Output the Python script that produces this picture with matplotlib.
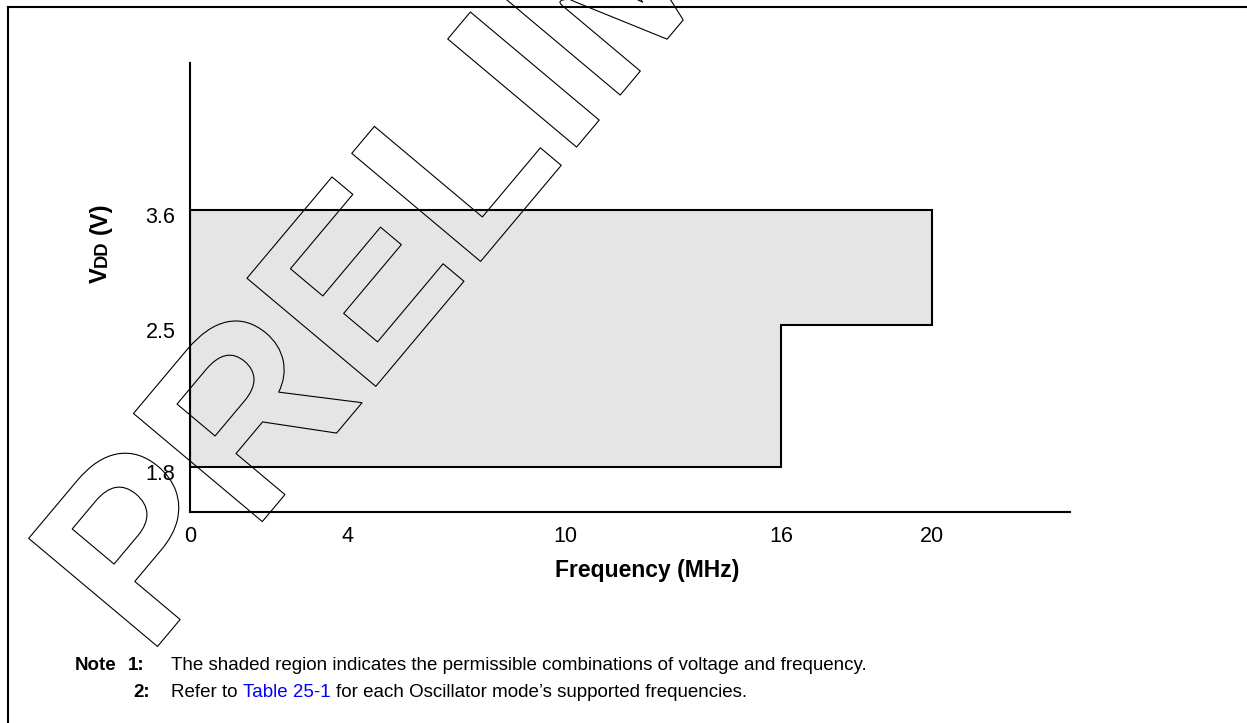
import numpy as np
import matplotlib
matplotlib.use("Agg")
import matplotlib.pyplot as plt
from matplotlib import patheffects
from matplotlib.lines import Line2D
from matplotlib.transforms import ScaledTranslation

# ---------------- data ----------------
freq_ticks = [0, 4, 10, 16, 20]
freq_tick_labels = ["0", "4", "10", "16", "20"]
vdd_ticks = [1.8, 2.5, 3.6]
vdd_tick_labels = ["1.8", "2.5", "3.6"]

# operating region: minimum VDD, and for each voltage band its upper VDD and max frequency
region_vdd_min = 1.8
region_band_vdd_top = [2.5, 3.6]
region_band_freq_max = [16, 20]

x_label = "Frequency (MHz)"
y_label_parts = ["V", "DD", "(V)"]
note1 = "The shaded region indicates the permissible combinations of voltage and frequency."
note2_parts = ["Refer to", "Table 25-1", "for each Oscillator mode\u2019s supported frequencies."]
watermark = "PRELIMINARY"

# ---------------- layout ----------------
W, H = 1247, 723
DPI = 100
plt.rcParams["font.family"] = ["Liberation Sans", "DejaVu Sans"]

fig = plt.figure(figsize=(W / DPI, H / DPI), dpi=DPI)
fig.patch.set_facecolor("white")

ax_left, ax_bottom_px, ax_w, ax_h = 190, 512, 880, 449
ax = fig.add_axes([ax_left / W, (H - ax_bottom_px) / H, ax_w / W, ax_h / H])

# schematic (non-linear) axis scales, piecewise linear
XK_V = [0, 4, 10, 16, 20, 24]
XK_U = [0, 157, 375, 591, 742, 880]
YK_V = [1.0, 1.8, 2.5, 3.6, 6.0]
YK_U = [45 - 0.8 * 203, 45, 187, 302, 302 + 2.4 * 104.5]

def xf(v):
    return np.interp(v, XK_V, XK_U)

def xi(u):
    return np.interp(u, XK_U, XK_V)

def yf(v):
    return np.interp(v, YK_V, YK_U)

def yi(u):
    return np.interp(u, YK_U, YK_V)

ax.set_xscale("function", functions=(xf, xi))
ax.set_yscale("function", functions=(yf, yi))
ax.set_xlim(0, 24)
ax.set_ylim(float(yi(0)), float(yi(ax_h)))

# region polygon built from the data
xs = [0]
ys = [region_vdd_min]
lower = region_vdd_min
for top, fmax in zip(region_band_vdd_top, region_band_freq_max):
    xs += [fmax, fmax]
    ys += [lower, top]
    lower = top
xs += [0]
ys += [region_band_vdd_top[-1]]
ax.fill(xs, ys, facecolor="#e5e5e5", edgecolor="black", linewidth=1.5, zorder=2)

for s in ["top", "right"]:
    ax.spines[s].set_visible(False)
for s in ["left", "bottom"]:
    ax.spines[s].set_linewidth(1.5)
    ax.spines[s].set_zorder(3)

ax.set_xticks(freq_ticks, freq_tick_labels)
ax.set_yticks(vdd_ticks, vdd_tick_labels)
ax.tick_params(axis="both", length=0, labelsize=15.5)
ax.tick_params(axis="x", pad=10)
ax.tick_params(axis="y", pad=10.5)
off = ScaledTranslation(0, -5 / DPI, fig.dpi_scale_trans)
for lbl in ax.get_yticklabels():
    lbl.set_transform(lbl.get_transform() + off)

# x label
fig.text(647 / W, (H - 577) / H, x_label, ha="center", va="baseline",
         fontsize=16.5, fontweight="bold")

# figure border (top and left, running off the image)
fig.add_artist(Line2D([8 / W, 1.0], [1 - 7 / H, 1 - 7 / H], transform=fig.transFigure,
                      color="black", linewidth=1.5))
fig.add_artist(Line2D([8 / W, 8 / W], [0, 1 - 7 / H], transform=fig.transFigure,
                      color="black", linewidth=1.5))

fig.canvas.draw()
r = fig.canvas.get_renderer()

# y label: V + small-caps DD + (V), rotated
ylab_size = 17
y = H - 283
xb = 107
sizes = [ylab_size, ylab_size * 0.78, ylab_size]
gaps = [0, 0, 0.278 * ylab_size / 0.72]
for txt, sz, gap in zip(y_label_parts, sizes, gaps):
    y += gap
    t = fig.text(xb / W, y / H, txt, rotation=90, rotation_mode="anchor",
                 ha="left", va="baseline", fontsize=sz, fontweight="bold")
    bb = t.get_window_extent(r)
    y = bb.y1

# notes
note_size = 13.5
sp = 0.278 * note_size / 0.72
fig.text(75 / W, (H - 670) / H, "Note", fontsize=note_size, fontweight="bold", va="baseline")
fig.text(128 / W, (H - 670) / H, "1:", fontsize=note_size, fontweight="bold", va="baseline")
fig.text(171 / W, (H - 670) / H, note1, fontsize=note_size, va="baseline")
fig.text(133 / W, (H - 697) / H, "2:", fontsize=note_size, fontweight="bold", va="baseline")
x = 171
colors = ["black", "#0000ff", "black"]
for txt, c in zip(note2_parts, colors):
    t = fig.text(x / W, (H - 697) / H, txt, fontsize=note_size, va="baseline", color=c)
    bb = t.get_window_extent(r)
    x = bb.x1 + sp

# watermark: outlined text
fig.text(147 / W, 64 / H, watermark, rotation=50, rotation_mode="anchor",
         ha="left", va="baseline", fontsize=176, fontweight="bold",
         color=(1, 1, 1, 0),
         path_effects=[patheffects.Stroke(linewidth=0.8, foreground="black")],
         zorder=10)

fig.savefig("out.png", dpi=DPI, facecolor="white")
